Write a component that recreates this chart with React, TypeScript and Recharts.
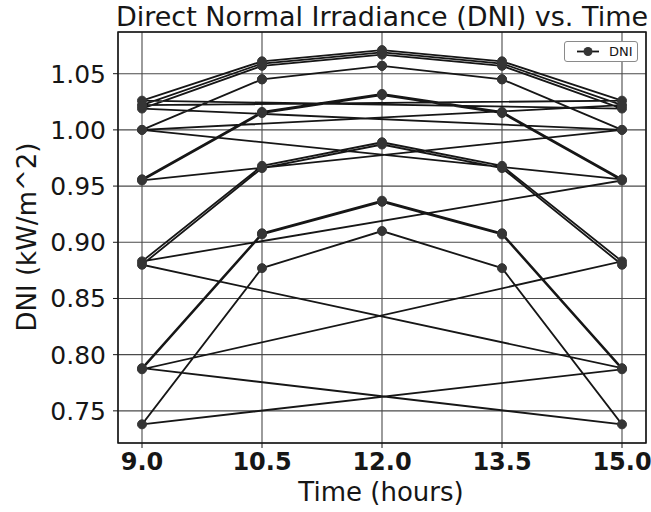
import React from 'react';
import { LineChart, Line, XAxis, YAxis, CartesianGrid, Legend, ReferenceArea } from 'recharts';

// sampling hours for every day
const hours = [9, 10.5, 12, 13.5, 15];

// DNI (kW/m^2) per day, one value per sampling hour
const day1 = [0.956, 1.016, 1.032, 1.016, 0.956];
const day2 = [1.0, 1.045, 1.057, 1.045, 1.0];
const day3 = [1.019, 1.057, 1.067, 1.057, 1.019];
const day4 = [1.026, 1.061, 1.071, 1.061, 1.026];
const day5 = [1.022, 1.059, 1.069, 1.059, 1.022];
const day6 = [1.0, 1.045, 1.057, 1.045, 1.0];
const day7 = [0.955, 1.015, 1.031, 1.015, 0.955];
const day8 = [0.883, 0.968, 0.989, 0.968, 0.883];
const day9 = [0.787, 0.907, 0.936, 0.907, 0.787];
const day10 = [0.738, 0.877, 0.91, 0.877, 0.738];
const day11 = [0.788, 0.908, 0.937, 0.908, 0.788];
const day12 = [0.88, 0.966, 0.987, 0.966, 0.88];

const days = [day1, day2, day3, day4, day5, day6, day7, day8, day9, day10, day11, day12];

const xTicks = [9, 10.5, 12, 13.5, 15];
const yTicks = [0.75, 0.8, 0.85, 0.9, 0.95, 1.0, 1.05];

const X_DOMAIN: [number, number] = [8.7, 15.3];
const Y_DOMAIN: [number, number] = [0.7214, 1.0871];

const data = days.flatMap((day) => day.map((dni, i) => ({ time: hours[i], dni })));

const FONT = 'DejaVu Sans, sans-serif';
const INK = '#161616';
const MARKER = '#353535';

const renderLegend = () => (
  <div
    style={{
      display: 'flex',
      alignItems: 'center',
      boxSizing: 'border-box',
      width: 74,
      height: 21,
      border: '1px solid #8a8a8a',
      borderRadius: 3,
      background: '#fff',
      fontFamily: FONT,
      fontSize: 13,
      color: INK,
    }}
  >
    <svg width={40} height={19} style={{ marginLeft: 6 }}>
      <line x1={6} y1={9.5} x2={28} y2={9.5} stroke={INK} strokeWidth={1.8} />
      <circle cx={17} cy={9.5} r={4.5} fill={MARKER} />
    </svg>
    <span style={{ marginLeft: -2 }}>DNI</span>
  </div>
);

const App: React.FC = () => {
  return (
    <div style={{ position: 'absolute', left: 0, top: 0, background: '#fff' }}>
      <LineChart width={651} height={512} data={data} margin={{ top: 32, right: 5, bottom: 0, left: 0 }}>
        <CartesianGrid stroke="#4a4a4a" strokeWidth={1.1} />
        <XAxis
          dataKey="time"
          type="number"
          domain={X_DOMAIN}
          ticks={xTicks}
          allowDataOverflow
          tickFormatter={(v: number) => v.toFixed(1)}
          height={69}
          axisLine={false}
          tickSize={5}
          tickMargin={5}
          tickLine={{ stroke: INK }}
          tick={{ fill: INK, fontSize: 24, fontWeight: 'bold', fontFamily: FONT }}
        />
        <YAxis
          type="number"
          domain={Y_DOMAIN}
          ticks={yTicks}
          allowDataOverflow
          tickFormatter={(v: number) => v.toFixed(2)}
          width={118}
          axisLine={false}
          tickSize={5}
          tickMargin={7}
          tickLine={{ stroke: INK }}
          tick={{ fill: INK, fontSize: 25, fontFamily: FONT }}
        />
        <ReferenceArea
          x1={X_DOMAIN[0]}
          x2={X_DOMAIN[1]}
          y1={Y_DOMAIN[0]}
          y2={Y_DOMAIN[1]}
          fill="none"
          stroke={INK}
          strokeWidth={1.5}
        />
        <Legend
          content={renderLegend}
          layout="horizontal"
          verticalAlign="middle"
          align="center"
          wrapperStyle={{ left: 564, top: 41, width: 74, height: 21 }}
        />
        <Line
          type="linear"
          dataKey="dni"
          name="DNI"
          stroke={INK}
          strokeWidth={1.8}
          dot={{ r: 4.5, fill: MARKER, stroke: MARKER, strokeWidth: 1 }}
          isAnimationActive={false}
        />
        <text x={382} y={26} textAnchor="middle" fontSize={27} fill={INK} fontFamily={FONT}>
          Direct Normal Irradiance (DNI) vs. Time
        </text>
        <text x={381} y={501} textAnchor="middle" fontSize={26} fill={INK} fontFamily={FONT}>
          Time (hours)
        </text>
        <text
          x={36}
          y={237}
          textAnchor="middle"
          fontSize={26}
          fill={INK}
          fontFamily={FONT}
          transform="rotate(-90 36 237)"
        >
          DNI (kW/m^2)
        </text>
      </LineChart>
    </div>
  );
};

export default App;
